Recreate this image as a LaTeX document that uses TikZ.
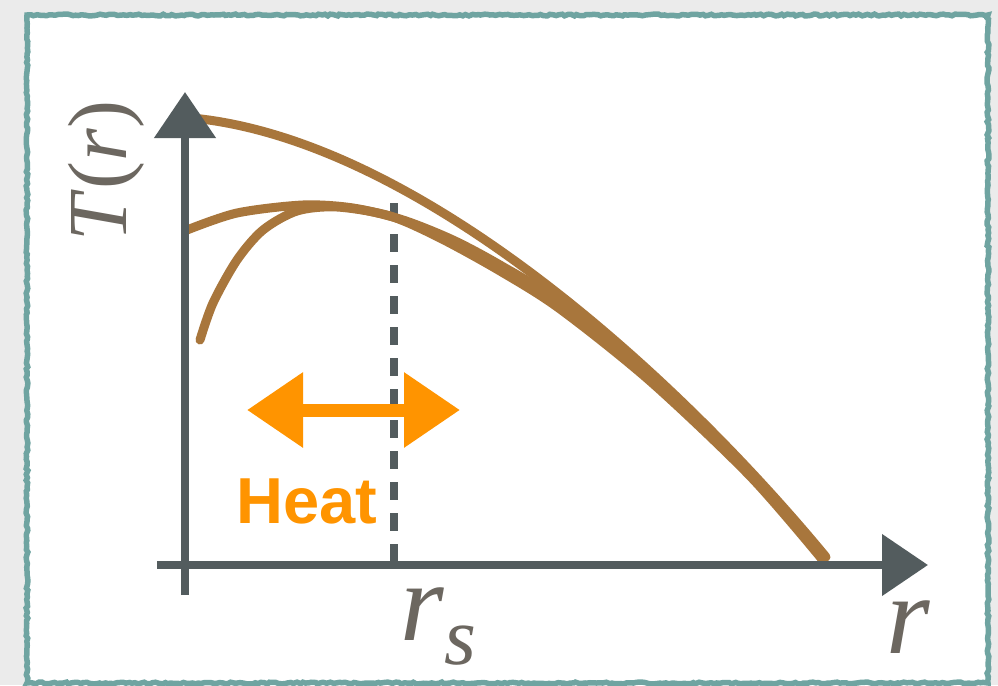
\documentclass[tikz,border=0pt]{standalone}
\usepackage{fontspec}
\newfontfamily\heatfont{Liberation Sans}
\newfontfamily\varfont{Liberation Serif}
\usetikzlibrary{arrows.meta,positioning,decorations.pathmorphing}
\definecolor{pageclr}{RGB}{235,235,235}
\definecolor{frameclr}{RGB}{111,164,161}
\definecolor{axisclr}{RGB}{83,92,94}
\definecolor{curveclr}{RGB}{168,118,60}
\definecolor{heatclr}{RGB}{255,148,0}
\definecolor{labelclr}{RGB}{108,103,96}
\tikzset{
  chalk/.style={decorate,decoration={random steps,segment length=3pt,amplitude=0.9pt}},
  frm/.style={draw=frameclr,line width=5.5pt,fill=white,chalk},
  axarr/.style={draw=axisclr,line width=8pt,-{Triangle[length=46pt,width=60pt]}},
  rsline/.style={draw=axisclr,line width=8pt,dash pattern=on 18pt off 13pt},
  crv/.style={draw=curveclr,line width=9pt,line cap=round,line join=round},
  heatarr/.style={draw=heatclr,line width=13pt,
    {Triangle[length=56pt,width=72pt]}-{Triangle[length=56pt,width=72pt]}},
  varlbl/.style={text=labelclr,inner sep=0pt,font=\varfont\fontsize{112}{112}\selectfont},
  heatlbl/.style={text=heatclr,inner sep=0pt,font=\heatfont\bfseries\fontsize{65}{65}\selectfont},
}

\begin{document}
\begin{tikzpicture}[x=1pt,y=-1pt]
  \fill[pageclr] (0,0) rectangle (998,685);
  \useasboundingbox (0,0) rectangle (998,685);
  \draw[frm] (27,15) rectangle (988,683);

  \coordinate (ybot) at (185,595);
  \coordinate (ytop) at (185,92);
  \coordinate (xlft) at (157,565);
  \coordinate (xrgt) at (928,565);
  \coordinate (rstop) at (394,203);
  \coordinate (rsbot) at (394,565);
  \coordinate (heatl) at (247,410);
  \coordinate (heatr) at (460,410);
  \coordinate (hot) at (192,118);
  \coordinate (cold) at (826,557);

  \draw[rsline] (rstop) -- (rsbot);

  \draw[crv] (hot) .. controls (420,140) and (680,380) .. (cold);
  \draw[crv] plot[smooth] coordinates {(187,230) (237,213) (303,205) (353,208)
    (403,220) (453,240) (500,265) (560,302) (650,375) (750,472) (824,558)};
  \draw[crv] plot[smooth] coordinates {(200,340) (213,303) (237,260) (263,230)
    (297,211) (337,207) (390,216) (440,238) (500,271) (560,309) (650,381) (750,476) (821,558)};

  \draw[axarr] (ybot) -- (ytop);
  \draw[axarr] (xlft) -- (xrgt);

  \draw[heatarr] (heatl) -- (heatr);

  \node[varlbl,rotate=90,font=\varfont\fontsize{84}{84}\selectfont] (tlbl) at (106,171) {\textit{T}(\textit{r})};
  \node[varlbl,anchor=base west] (rslbl) at (400,640) {\textit{r}\raisebox{-0.22em}{\fontsize{82}{82}\selectfont\textit{s}}};
  \node[varlbl,anchor=base west] (rlbl) at (886,653) {\textit{r}};
  \node[heatlbl,anchor=base west] (heat) at (236,523) {Heat};
\end{tikzpicture}
\end{document}
